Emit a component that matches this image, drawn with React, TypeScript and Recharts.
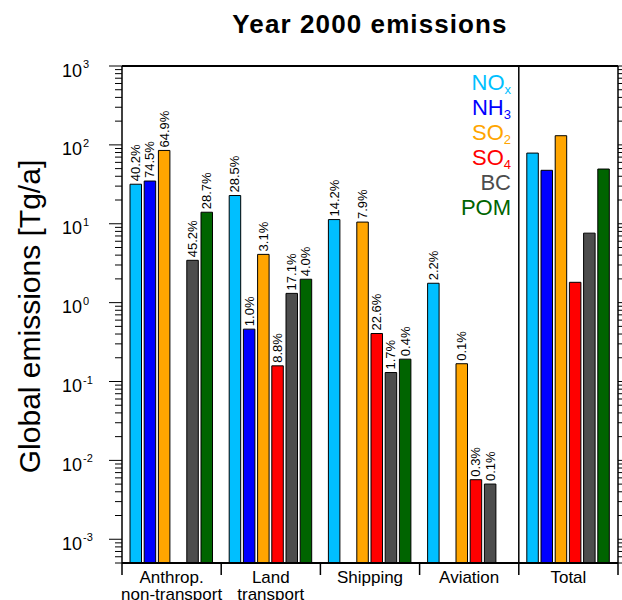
import React from "react";
import { BarChart, Bar, XAxis, YAxis, LabelList, ReferenceLine, Customized } from "recharts";

const categories = ["Anthrop.\nnon-transport", "Land\ntransport", "Shipping", "Aviation", "Total"];

const noxValues = [31.7, 22.8, 11.3, 1.76, 78.7];
const nh3Values = [34.8, 0.461, null, null, 47.6];
const so2Values = [85, 4.09, 10.5, 0.168, 130.7];
const so4Values = [null, 0.158, 0.406, 0.00569, 1.81];
const bcValues = [3.44, 1.31, 0.13, 0.00501, 7.6];
const pomValues = [14.0, 1.98, 0.192, null, 49.4];

const noxPct = ["40.2%", "28.5%", "14.2%", "2.2%", null];
const nh3Pct = ["74.5%", "1.0%", null, null, null];
const so2Pct = ["64.9%", "3.1%", "7.9%", "0.1%", null];
const so4Pct = [null, "8.8%", "22.6%", "0.3%", null];
const bcPct = ["45.2%", "17.1%", "1.7%", "0.1%", null];
const pomPct = ["28.7%", "4.0%", "0.4%", null, null];

const seriesKeys = ["nox", "nh3", "so2", "so4", "bc", "pom"];
const seriesNames = ["NO", "NH", "SO", "SO", "BC", "POM"];
const seriesSubs = ["x", "3", "2", "4", "", ""];
const seriesColors = ["#00BFFF", "#0000FF", "#FFA500", "#FF0000", "#4D4D4D", "#006400"];

const majorTicks = [0.001, 0.01, 0.1, 1, 10, 100, 1000];
const minorMultipliers = [2, 3, 4, 5, 6, 7, 8, 9];
const yTicks: number[] = [];
[0.0001, ...majorTicks].forEach((m) => {
  if (m >= 0.001) yTicks.push(m);
  if (m < 1000) minorMultipliers.forEach((k) => {
    const v = +(m * k).toPrecision(3);
    if (v >= 0.0005 && v < 1000) yTicks.push(v);
  });
});
yTicks.sort((a, b) => a - b);

const title = "Year 2000 emissions";
const yLabel = "Global emissions [Tg/a]";

const valueArrays = [noxValues, nh3Values, so2Values, so4Values, bcValues, pomValues];
const pctArrays = [noxPct, nh3Pct, so2Pct, so4Pct, bcPct, pomPct];

const rows = categories.map((cat, i) => {
  const r: any = { cat };
  seriesKeys.forEach((k, j) => {
    r[k] = valueArrays[j][i];
    r[k + "Pct"] = pctArrays[j][i];
  });
  return r;
});

const FONT = "'Liberation Sans', Arial, Helvetica, sans-serif";

const YTick = (props: any) => {
  const { x, y, payload, side } = props;
  const v = payload.value;
  const lg = Math.log10(v);
  const exp = Math.round(lg);
  const isMajor = Math.abs(lg - exp) < 1e-6;
  const len = isMajor ? 13 : 7;
  const dir = side === "left" ? -1 : 1;
  return (
    <g>
      <line x1={x} x2={x + dir * len} y1={y} y2={y} stroke="#000" strokeWidth={1} />
      {side === "left" && isMajor && (
        <text x={x - 40} y={y + 10.5} fontFamily={FONT} fontSize={18} fill="#000" textAnchor="end">
          10
          <tspan x={x - 39} dy={-8.5} fontSize={11} textAnchor="start">
            {String(exp)}
          </tspan>
        </text>
      )}
    </g>
  );
};

const XTick = (props: any) => {
  const { x, y, payload, index } = props;
  const half = payload.offset || 49.6;
  const lines = String(payload.value).split("\n");
  return (
    <g>
      <line x1={x - half} x2={x - half} y1={y} y2={y + 12} stroke="#000" strokeWidth={1.5} />
      {index === categories.length - 1 && (
        <line x1={x + half} x2={x + half} y1={y} y2={y + 12} stroke="#000" strokeWidth={1.5} />
      )}
      {lines.map((l, i) => (
        <text key={i} x={x} y={y + 20 + i * 17} textAnchor="middle" fontFamily={FONT} fontSize={17} fill="#000">
          {l}
        </text>
      ))}
    </g>
  );
};

const BarLabel = (props: any) => {
  const { x, y, width, value } = props;
  if (value == null || value === "") return null;
  const cx = Number(x) + Number(width) / 2;
  const ty = Number(y) - 3;
  return (
    <text
      x={cx}
      y={ty}
      transform={`rotate(-90 ${cx} ${ty})`}
      textAnchor="start"
      dominantBaseline="central"
      fontFamily={FONT}
      fontSize={13}
      fill="#000"
    >
      {value}
    </text>
  );
};

const Overlay = () => (
  <g>
    <text x={370} y={33} textAnchor="middle" fontFamily={FONT} fontWeight="bold" fontSize={26} letterSpacing={1.1} fill="#000">
      {title}
    </text>
    <text
      x={39.5}
      y={316.5}
      transform="rotate(-90 39.5 316.5)"
      textAnchor="middle"
      fontFamily={FONT}
      fontSize={30}
      fill="#000"
    >
      {yLabel}
    </text>
    {seriesNames.map((n, i) => (
      <text key={i} x={511} y={89.5 + i * 25} textAnchor="end" fontFamily={FONT} fontSize={22} fill={seriesColors[i]}>
        {n}
        {seriesSubs[i] && (
          <tspan dy={4} fontSize={13}>
            {seriesSubs[i]}
          </tspan>
        )}
      </text>
    ))}
  </g>
);

export default function App() {
  return (
    <div style={{ position: "absolute", left: 0, top: 0 }}>
      <BarChart
        width={622}
        height={600}
        data={rows}
        margin={{ top: 66, right: 0, bottom: 0, left: 0 }}
        barSize={11.5}
        barGap={2.7}
      >
        <XAxis
          dataKey="cat"
          height={37}
          interval={0}
          tickLine={false}
          tickSize={0}
          tickMargin={0}
          tick={<XTick />}
          axisLine={{ stroke: "#000", strokeWidth: 2 }}
        />
        <YAxis
          yAxisId="left"
          scale="log"
          domain={[0.0005, 1000]}
          allowDataOverflow
          ticks={yTicks}
          interval={0}
          width={122}
          tickLine={false}
          tickSize={0}
          tickMargin={0}
          tick={<YTick side="left" />}
          axisLine={{ stroke: "#000", strokeWidth: 1.5 }}
        />
        <YAxis
          yAxisId="right"
          orientation="right"
          scale="log"
          domain={[0.0005, 1000]}
          allowDataOverflow
          ticks={yTicks}
          interval={0}
          width={4}
          tickLine={false}
          tickSize={0}
          tickMargin={0}
          tick={<YTick side="right" />}
          axisLine={{ stroke: "#000", strokeWidth: 1.5 }}
        />
        <ReferenceLine yAxisId="left" y={1000} stroke="#000" strokeWidth={2} />
        <ReferenceLine yAxisId="left" x="Total" position="start" stroke="#000" strokeWidth={1.5} />
        {seriesKeys.map((k, j) => (
          <Bar
            key={k}
            yAxisId="left"
            dataKey={k}
            fill={seriesColors[j]}
            stroke="#000"
            strokeWidth={1}
            isAnimationActive={false}
          >
            <LabelList dataKey={k + "Pct"} content={<BarLabel />} />
          </Bar>
        ))}
        <Customized component={Overlay} />
      </BarChart>
    </div>
  );
}
